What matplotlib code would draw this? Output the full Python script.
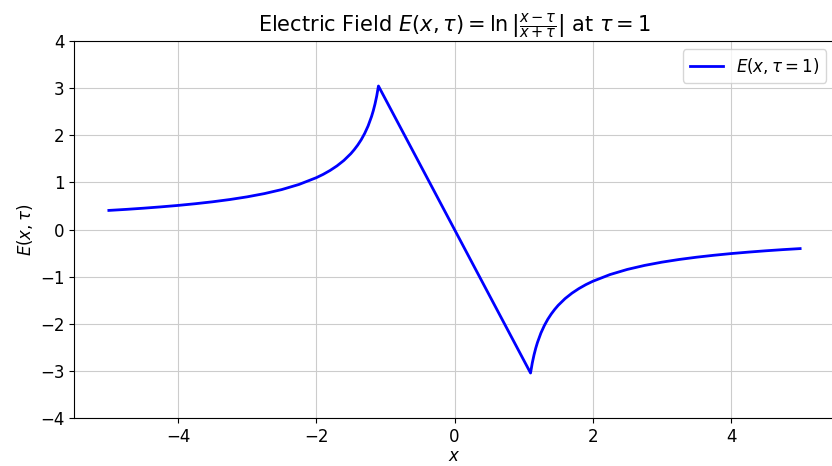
import numpy as np
import matplotlib.pyplot as plt

# sampled field values, tau = 1 (points for |x| < 1.1 are not present)
x_left = [-5.0, -4.75, -4.5, -4.25, -4.0, -3.75, -3.5, -3.25, -3.0, -2.75,
          -2.5, -2.25, -2.0, -1.9, -1.8, -1.7, -1.6, -1.5, -1.45, -1.4,
          -1.35, -1.3, -1.25, -1.2, -1.175, -1.15, -1.125, -1.1]
E_left = [0.405, 0.427, 0.452, 0.480, 0.511, 0.547, 0.588, 0.636, 0.693, 0.762,
          0.847, 0.956, 1.099, 1.170, 1.253, 1.350, 1.466, 1.609, 1.695, 1.792,
          1.904, 2.037, 2.197, 2.398, 2.520, 2.663, 2.833, 3.045]
x_right = [1.1, 1.125, 1.15, 1.175, 1.2, 1.25, 1.3, 1.35, 1.4, 1.45,
           1.5, 1.6, 1.7, 1.8, 1.9, 2.0, 2.25, 2.5, 2.75, 3.0,
           3.25, 3.5, 3.75, 4.0, 4.25, 4.5, 4.75, 5.0]
E_right = [-3.045, -2.833, -2.663, -2.520, -2.398, -2.197, -2.037, -1.904, -1.792, -1.695,
           -1.609, -1.466, -1.350, -1.253, -1.170, -1.099, -0.956, -0.847, -0.762, -0.693,
           -0.636, -0.588, -0.547, -0.511, -0.480, -0.452, -0.427, -0.405]

x = np.array(x_left + x_right)
E = np.array(E_left + E_right)

fig = plt.figure(figsize=(8.32, 4.66), dpi=100)
ax = fig.add_axes([74.3 / 832, 0.103, (834.7 - 74.3) / 832, 0.809])
ax.plot(x, E, color="blue", lw=2, label=r"$E(x, \tau=1)$")
ax.set_ylim(-4, 4)
ax.set_title(r"Electric Field $E(x, \tau) = \ln\left|\frac{x - \tau}{x + \tau}\right|$ at $\tau = 1$",
             fontsize=15)
ax.set_xlabel("$x$", fontsize=12, labelpad=1)
ax.set_ylabel(r"$E(x, \tau)$", fontsize=12)
ax.tick_params(labelsize=12)
ax.grid(True, color="#cccccc")
ax.legend(loc="upper right", fontsize=12)

fig.savefig("out.png", dpi=100)
